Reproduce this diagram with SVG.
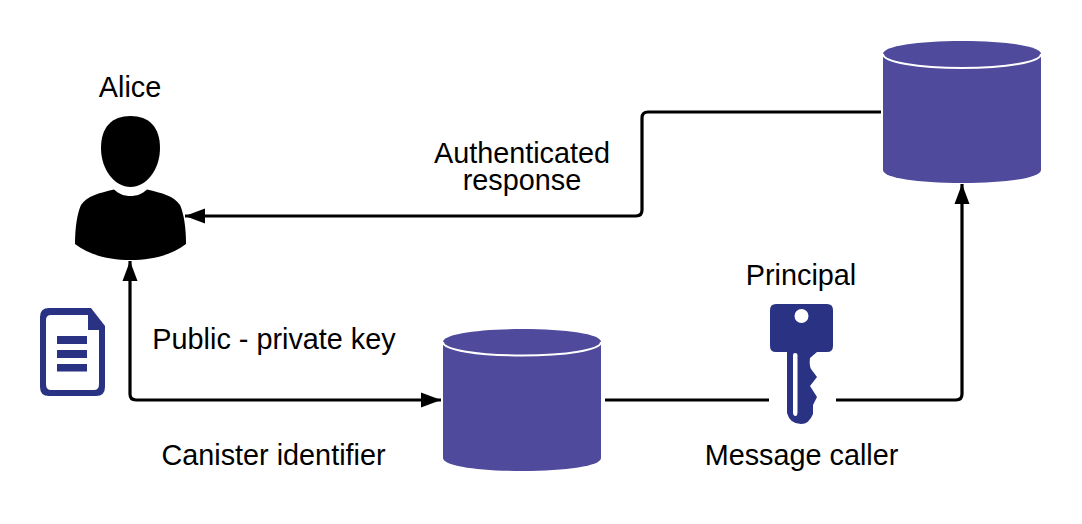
<svg xmlns="http://www.w3.org/2000/svg" width="1082" height="524" viewBox="0 0 1082 524">
<style>
.t{font-family:"Liberation Sans",Arial,sans-serif;font-size:28.800px;fill:#000;text-anchor:middle}
.c{fill:none;stroke:#000;stroke-width:3.200px}
.cyl{fill:#4f4a9c}
.arc{fill:none;stroke:#fff;stroke-width:2px}
.navy{fill:#2a3284}
</style>
<defs>
<marker id="a" markerUnits="userSpaceOnUse" markerWidth="22" markerHeight="18" refX="20" refY="9" orient="auto-start-reverse"><path d="M0 1.500L20 9L0 16.500Z" fill="#000"/></marker>
<path id="cylinder" class="cyl" d="M883 54C883 46 918 41 962 41C1006 41 1041 46 1041 54V170C1041 178 1006 183 962 183C918 183 883 178 883 170Z"/>
</defs>
<rect width="1082" height="524" fill="#fff"/>
<g id="connectors">
<path class="c" d="M881 112H648Q642 112 642 118V210Q642 216 636 216H185" marker-end="url(#a)"/>
<path class="c" d="M130 261V394Q130 400 136 400H441" marker-start="url(#a)" marker-end="url(#a)"/>
<path class="c" d="M605 400H769"/>
<path class="c" d="M836 400H956Q962 400 962 394V184" marker-end="url(#a)"/>
</g>
<g id="alice">
<path d="M130.500 116C112 116 101 127 101 148C101 170 115 187 130.500 187C146 187 160 170 160 148C160 127 149 116 130.500 116Z" fill="#000"/>
<path d="M114 189.500C119 194 124 196 130.500 196C137 196 142 194 147 189.500C162 193 174 196 180 205C184 214 186 228 186 244C172 255 152 260 130.500 260C109 260 89 255 75 244C75 228 77 214 81 205C87 196 99 193 114 189.500Z" fill="#000"/>
<text class="t" x="130" y="96.500">Alice</text>
</g>
<g id="document">
<path class="navy" fill-rule="evenodd" d="M49 308H91L105 326V387Q105 396 96 396H49Q40 396 40 387V317Q40 308 49 308ZM51 315Q46 315 46 320V384Q46 390 51 390H94Q99 390 99 384V330H88V315Z"/>
<rect class="navy" x="57" y="336" width="30" height="8"/>
<rect class="navy" x="57" y="350" width="30" height="8"/>
<rect class="navy" x="57" y="364" width="30" height="7.500"/>
</g>
<g id="response-label">
<text class="t" x="522" y="162.500">Authenticated<tspan x="522" y="189.500">response</tspan></text>
</g>
<g id="key-label">
<text class="t" x="274" y="348.500">Public - private key</text>
</g>
<g id="canister-label">
<text class="t" x="273.500" y="464.500">Canister identifier</text>
</g>
<g id="canister-a">
<use href="#cylinder" x="-440" y="288"/>
<path class="arc" d="M443 342C443 350 478 355.500 522 355.500C566 355.500 601 350 601 342"/>
</g>
<g id="canister-b">
<use href="#cylinder"/>
<path class="arc" d="M883 54C883 62 918 68 962 68C1006 68 1041 62 1041 54"/>
</g>
<g id="principal">
<text class="t" x="801" y="284.500">Principal</text>
<path class="navy" fill-rule="evenodd" d="M776 304H827Q833 304 833 310V346Q833 352 827 352H817L810 358Q809 365 811 369L817 377L810 386L817 397L813 405L813 414Q809 424 801 424Q790 424 787 413V352H776Q770 352 770 346V310Q770 304 776 304ZM801.500 309A7 7 0 1 0 801.500 323A7 7 0 1 0 801.500 309ZM793 355V412Q793 416 795.500 416Q797.500 416 797.500 412V355Q797.500 353 795 353Q793 353 793 355Z"/>
<text class="t" x="801.500" y="464.500">Message caller</text>
</g>
</svg>
